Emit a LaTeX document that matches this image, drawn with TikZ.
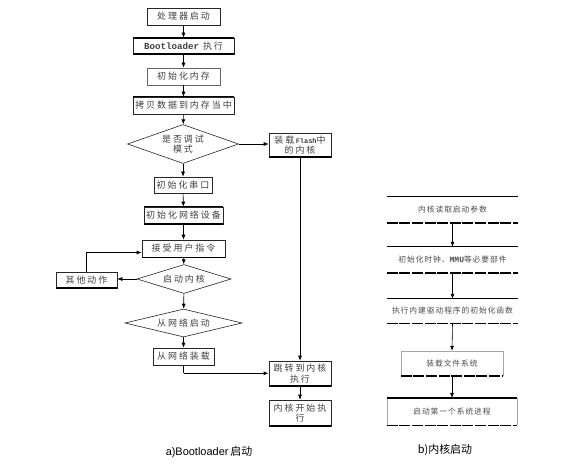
\documentclass[tikz,border=0pt]{standalone}
\usepackage{fontspec}
\setmainfont{Noto Sans CJK SC}
\newfontfamily\zh[LetterSpace=22]{Noto Sans CJK SC}
\newfontfamily\zhr[LetterSpace=12]{Noto Sans CJK SC}
\newfontfamily\mono{Liberation Mono}
\newfontfamily\capf{Liberation Sans}
\usetikzlibrary{shapes.geometric,arrows.meta}
\begin{document}
\begin{tikzpicture}[x=1bp,y=-1bp,
  box/.style={draw=black!85, line width=0.6bp, inner sep=0pt, align=center,
    text=black!75, font=\zh\fontsize{9}{10.5}\selectfont},
  dia/.style={diamond, draw=black!85, line width=0.6bp, inner sep=0pt, align=center,
    text=black!75, font=\zh\fontsize{9}{10.5}\selectfont},
  rbox/.style={draw=none, inner sep=0pt, align=center, text=black!70,
    font=\zhr\fontsize{7.8}{9}\selectfont},
  arr/.style={-{Latex[length=5bp,width=4bp]}, line width=0.6bp, black},
  thk/.style={line width=1.8bp, black},
  topl/.style={line width=0.8bp, black},
  dbot/.style={line width=1.4bp, black, dash pattern=on 11bp off 1.6bp},
  side/.style={line width=0.4bp, black!35},
  capt/.style={text=black, font=\fontsize{11}{13}\selectfont}]
\fill[white] (0,0) rectangle (574,468);
\useasboundingbox (0,0) rectangle (574,468);

% left flow
\node[box, minimum width=73bp, minimum height=17bp] (p1) at (183.5,16.5) {处理器启动};
\node[box, minimum width=101bp, minimum height=16bp] (b2) at (183.5,46) {{\mono\bfseries\fontsize{9.2}{10}\selectfont Bootloader} 执行};
\node[box, minimum width=73bp, minimum height=17bp, draw=black!60] (b3) at (183.5,76.5) {初始化内存};
\node[box, minimum width=101bp, minimum height=17bp] (b4) at (183.5,105.5) {拷贝数据到内存当中};
\node[dia, aspect=2.5, minimum width=111bp, minimum height=39bp] (d1) at (183,144) {是否调试\\模式};
\node[box, minimum width=62bp, minimum height=24bp] (fl) at (300,145) {装载\,{\mono\bfseries\fontsize{7}{8}\selectfont Flash}中\\的内核};
\node[box, minimum width=58bp, minimum height=16bp] (s1) at (183,185) {初始化串口};
\node[box, minimum width=79bp, minimum height=17bp] (n1) at (183.5,215.5) {初始化网络设备};
\node[box, minimum width=83bp, minimum height=17bp] (acc) at (183.5,248.5) {接受用户指令};
\node[dia, aspect=3, minimum width=94bp, minimum height=29bp] (d2) at (184,279) {启动内核};
\node[box, minimum width=61bp, minimum height=16bp] (oth) at (86.5,280) {其他动作};
\node[dia, aspect=4, minimum width=117bp, minimum height=28bp] (d3) at (183.5,323) {从网络启动};
\node[box, minimum width=61bp, minimum height=17bp] (ld) at (183.5,356.5) {从网络装载};
\node[box, minimum width=62bp, minimum height=25bp] (jp) at (300,373.5) {跳转到内核\\执行};
\node[box, minimum width=62bp, minimum height=26bp] (ks) at (300,413) {内核开始执\\行};

% thick borders
\draw[thk] (b2.north west) -- (b2.north east);
\draw[thk] (b2.south west) -- (b2.south east);
\draw[line width=1.3bp] (b4.north west) -- (b4.north east);
\draw[thk] (fl.south west) -- (fl.south east);
\draw[line width=1.3bp] (n1.north west) -- (n1.north east);
\draw[thk] (n1.south west) -- (n1.south east);
\draw[line width=1.1bp] (acc.south west) -- (acc.south east);
\draw[thk] (oth.south west) -- (oth.south east);
\draw[thk] (jp.south west) -- (jp.south east);
\draw[thk] (ks.south west) -- (ks.south east);

% left connectors
\draw[arr] (p1) -- (b2);
\draw[arr] (b2) -- (b3);
\draw[arr] (b3) -- (b4);
\draw[arr] (b4) -- (d1);
\draw[arr] (d1) -- (s1);
\draw[arr] (s1) -- (n1);
\draw[arr] (n1) -- (acc);
\draw[arr] (acc) -- (d2);
\draw[arr] (d2) -- (d3);
\draw[arr] (d3) -- (ld);
\draw[arr] (jp) -- (ks);
\draw[arr] (d1.east) -- (d1.east -| fl.west);
\draw[arr] (fl.south) -- (jp.north);
\draw[arr] (d2.west) -- (d2.west -| oth.east);
\coordinate (accin) at ([yshift=-4bp]acc.west);
\draw[line width=0.6bp] (oth.north) -- (oth.north |- accin);
\draw[arr, line width=1.6bp] (oth.north |- accin) -- (accin);
\draw[line width=0.6bp] (ld.south) -- ++(0,8);
\draw[arr, line width=1.6bp] ([yshift=-8bp]ld.south) -- ([yshift=-8bp]ld.south -| jp.west);

\node[capt] (capa) at (209,452) {{\capf a)Bootloader}\,启动};

% right flow
\node[rbox, minimum width=131bp, minimum height=26bp] (r1) at (452.5,210) {内核读取启动参数};
\node[rbox, minimum width=131bp, minimum height=26bp] (r2) at (452.5,260) {初始化时钟、{\mono\bfseries\fontsize{8}{9}\selectfont MMU}等必要部件};
\node[rbox, minimum width=131bp, minimum height=24bp] (r3) at (452.5,311) {执行内建驱动程序的初始化函数};
\node[rbox, minimum width=102bp, minimum height=25bp] (r4) at (452,363.5) {装载文件系统};
\node[rbox, minimum width=130bp, minimum height=27bp] (r5) at (452,411.5) {启动第一个系统进程};

\draw[topl] (r1.north west) -- (r1.north east);
\draw[dbot] (r1.south west) -- (r1.south east);
\draw[topl] (r2.north west) -- (r2.north east);
\draw[dbot] (r2.south west) -- (r2.south east);
\draw[topl] (r3.north west) -- (r3.north east);
\draw[dbot] (r3.south west) -- (r3.south east);
\draw[side] (r4.south west) -- (r4.north west) -- (r4.north east) -- (r4.south east);
\draw[dbot, line width=2bp] (r4.south west) -- (r4.south east);
\draw[side] (r5.south west) -- (r5.north west);
\draw[side] (r5.south east) -- (r5.north east);
\draw[line width=2bp] (r5.north west) -- (r5.north east);
\draw[dbot] (r5.south west) -- (r5.south east);

\draw[arr] (r1.south) -- (r2.north);
\draw[arr] (r2.south) -- (r3.north);
\draw[arr] (r3.south) -- (r4.north);
\draw[arr] (r4.south) -- (r5.north);

\node[capt] (capb) at (445,450) {b)内核启动};
\end{tikzpicture}
\end{document}
